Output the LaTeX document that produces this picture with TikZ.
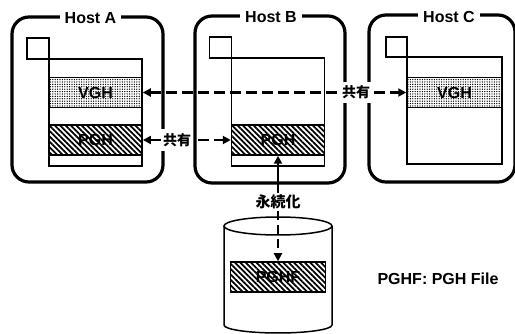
\documentclass[tikz,border=0pt]{standalone}
\usepackage{fontspec}
\setmainfont{Liberation Sans}
\newfontfamily\jp{Noto Sans CJK JP}
\usetikzlibrary{arrows.meta,patterns.meta}
\tikzset{
  hostframe/.style={draw, line width=3.2pt, rounded corners=17pt, inner sep=0pt},
  hosttitle/.style={fill=white, inner xsep=5pt, inner ysep=2pt, font=\bfseries\fontsize{16}{16}\selectfont},
  stackbox/.style={draw, line width=1.5pt, inner sep=0pt},
  band/.style={draw, line width=1.5pt, inner sep=0pt, minimum height=30pt, font=\bfseries\fontsize{16}{16}\selectfont},
  vghband/.style={band, pattern={Dots[distance=2.4pt,radius=0.7pt]}},
  pghband/.style={band, pattern={Lines[angle=-45,distance=3.8pt,line width=1.8pt]}},
  jplabel/.style={fill=white, inner xsep=2pt, inner ysep=4pt, font=\jp\bfseries\fontsize{14}{14}\selectfont},
  tipA/.tip={Triangle[length=8pt,width=8pt]},
  shareconn/.style={line width=2.5pt, dash pattern=on 11pt off 5pt, tipA-tipA},
}
\begin{document}
\begin{tikzpicture}[x=1pt,y=-1pt]
\useasboundingbox (0,0) rectangle (515,334);
% host frames
\node[hostframe, minimum width=151pt, minimum height=165pt] (hostA) at (87.5,99.5) {};
\node[hostframe, minimum width=150pt, minimum height=167pt] (hostB) at (270,99.5) {};
\node[hostframe, minimum width=146pt, minimum height=167pt] (hostC) at (442,98.5) {};
\node[hosttitle] (titleA) at (90.5,18) {Host A};
\node[hosttitle] (titleB) at (271,17) {Host B};
\node[hosttitle] (titleC) at (449,17) {Host C};
% Host A stack
\node[stackbox, minimum width=22pt, minimum height=21pt] (sqA) at (38,48.5) {};
\node[stackbox, minimum width=93pt, minimum height=107pt] (stackA) at (95.5,112.5) {};
\node[vghband, minimum width=93pt] (vghA) at (95.5,92.5) {VGH};
\node[pghband, minimum width=93pt] (pghA) at (95.5,140) {PGH};
% Host B stack
\node[stackbox, minimum width=22pt, minimum height=21pt] (sqB) at (220.5,47.5) {};
\node[stackbox, minimum width=93pt, minimum height=108pt] (stackB) at (278,112) {};
\node[pghband, minimum width=93pt] (pghB) at (278,140) {PGH};
% Host C stack
\node[stackbox, minimum width=21pt, minimum height=20pt] (sqC) at (396.5,47) {};
\node[stackbox, minimum width=95pt, minimum height=107pt] (stackC) at (454.5,110.5) {};
\node[vghband, minimum width=95pt] (vghC) at (454.5,92.5) {VGH};
% sharing connectors
\draw[shareconn] (vghA.east) -- node[jplabel, pos=0.81] (shareV) {共有} (vghC.west);
\draw[shareconn] (pghA.east) -- node[jplabel, pos=0.39] (shareP) {共有} (pghB.west);
% persistence
\node[font=\jp\bfseries\fontsize{15}{15}\selectfont, inner sep=2pt] (persist) at (278,202) {永続化};
\draw[line width=2pt, -tipA] (persist.north) -- (pghB.south);
% cylinder
\draw[line width=1.5pt, fill=white] (224,226) -- (224,325) arc[start angle=180, end angle=0, x radius=54, y radius=8] -- (332,226);
\draw[line width=1.5pt] (278,226) ellipse [x radius=54, y radius=9];
\node[pghband, minimum width=95pt] (pghf) at (278,277) {PGHF};
\draw[line width=2.5pt, dash pattern=on 9pt off 5pt, -tipA] (persist.south) -- (pghf.north);
\node[font=\bfseries\fontsize{16}{16}\selectfont] (legend) at (438,279) {PGHF: PGH File};
\end{tikzpicture}
\end{document}
